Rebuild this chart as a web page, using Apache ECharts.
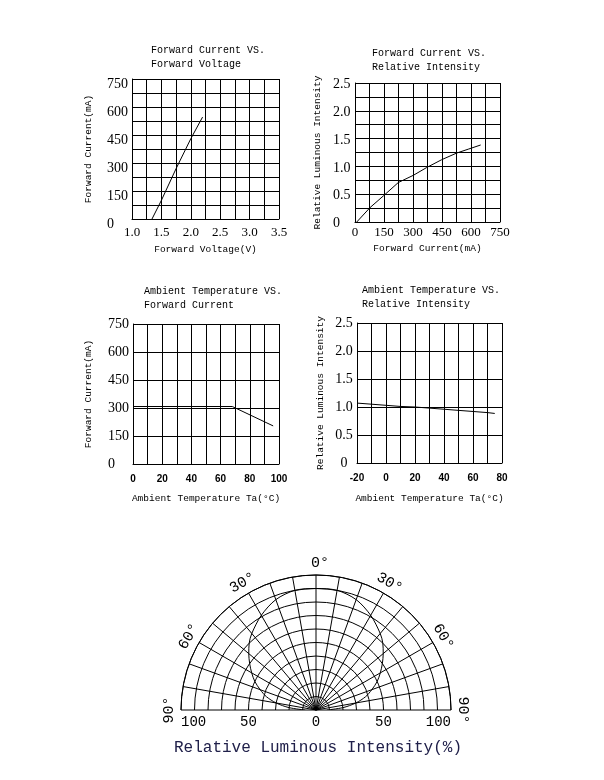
<!DOCTYPE html>
<html>
<head>
<meta charset="utf-8">
<script src="https://cdn.jsdelivr.net/npm/echarts@6/dist/echarts.min.js"></script>
<style>
html,body{margin:0;padding:0;background:#fff;}
#c{width:604px;height:780px;}
</style>
</head>
<body>
<div id="c"></div>
<script>
// ---- Chart 1: Forward Voltage vs Forward Current ----
const ivVoltage = [1.34, 1.5, 1.75, 2.0, 2.2];
const ivCurrent = [0, 100, 270, 430, 546];
const ivXLabels = [1.0, 1.5, 2.0, 2.5, 3.0, 3.5];
const ivYLabels = [0, 150, 300, 450, 600, 750];

// ---- Chart 2: Forward Current vs Relative Intensity ----
const liCurrent = [9, 78, 147, 224, 302, 371, 448, 526, 586, 650];
const liIntensity = [0, 0.26, 0.47, 0.71, 0.84, 0.98, 1.12, 1.24, 1.31, 1.385];
const liXLabels = [0, 150, 300, 450, 600, 750];
const liYLabels = [0, 0.5, 1.0, 1.5, 2.0, 2.5];

// ---- Chart 3: Ambient Temperature vs Forward Current ----
const drTemp = [0, 68, 96];
const drCurrent = [308, 308, 204];
const drXLabels = [0, 20, 40, 60, 80, 100];

// ---- Chart 4: Ambient Temperature vs Relative Intensity ----
const tiTemp = [-20, -10, 0, 10, 20, 30, 40, 50, 60, 70, 75];
const tiIntensity = [1.07, 1.05, 1.03, 1.01, 1.0, 0.98, 0.96, 0.94, 0.92, 0.90, 0.885];
const tiXLabels = [-20, 0, 20, 40, 60, 80];

// ---- Radiation pattern ----
const beamAngle = [-90, -85, -80, -75, -70, -65, -60, -55, -50, -45, -40, -30, -20, -10, 0, 10, 20, 30, 40, 45, 50, 55, 60, 65, 70, 75, 80, 85, 90];
const beamIntensity = [8, 20, 30, 38, 44, 50, 55, 60, 65, 70, 74, 81, 87, 90, 90, 90, 87, 81, 74, 70, 65, 60, 55, 50, 44, 38, 30, 20, 8];
const angleLabels = [
  {a: 0, t: '0°'}, {a: -30, t: '30°'}, {a: 30, t: '30°'},
  {a: -60, t: '60°'}, {a: 60, t: '60°'}, {a: -90, t: '90°'}, {a: 90, t: '90°'}
];
const radiusLabels = [-100, -50, 0, 50, 100];

const MONO = 'Liberation Mono';
const SERIF = 'Liberation Serif';
const SANS = 'Liberation Sans';
const BLK = '#000';

function near(v, arr) { return arr.some(a => Math.abs(a - v) < 1e-6); }
function zip(a, b) { return a.map((v, i) => [v, b[i]]); }

const lineS = {lineStyle: {color: BLK, width: 1}};
function axisBase(gi) {
  return {
    type: 'value', gridIndex: gi,
    axisLine: {show: true, onZero: false, lineStyle: {color: BLK, width: 1}},
    axisTick: {show: false},
    splitLine: {show: true, lineStyle: {color: BLK, width: 1}},
    nameLocation: 'middle',
    nameTextStyle: {fontFamily: MONO, fontSize: 9.5, color: BLK}
  };
}

const chart = echarts.init(document.getElementById('c'), null, {renderer: 'canvas'});

const PC = [316, 710], PR = 135;

const graphics = angleLabels.map(l => {
  const rad = l.a * Math.PI / 180;
  const R = 147;
  return {
    type: 'text',
    x: PC[0] + R * Math.sin(rad) + (l.a === 0 ? 4 : 0),
    y: PC[1] - R * Math.cos(rad),
    rotation: -rad,
    style: {text: l.t, fontFamily: MONO, fontSize: 15, fill: BLK, align: 'center', verticalAlign: 'middle'}
  };
});
graphics.push({
  type: 'text', x: 318, y: 748,
  style: {text: 'Relative Luminous Intensity(%)', fontFamily: MONO, fontSize: 16, fill: '#20204a', align: 'center', verticalAlign: 'middle'}
});

const titleStyle = {fontFamily: MONO, fontSize: 10, fontWeight: 'normal', color: BLK, lineHeight: 14};

const option = {
  backgroundColor: '#fff',
  animation: false,
  title: [
    {text: 'Forward Current VS.\nForward Voltage', left: 151, top: 43, padding: 0, textStyle: titleStyle},
    {text: 'Forward Current VS.\nRelative Intensity', left: 372, top: 46, padding: 0, textStyle: titleStyle},
    {text: 'Ambient Temperature VS.\nForward Current', left: 144, top: 284, padding: 0, textStyle: titleStyle},
    {text: 'Ambient Temperature VS.\nRelative Intensity', left: 362, top: 283, padding: 0, textStyle: titleStyle}
  ],
  grid: [
    {left: 132, top: 79, width: 147, height: 140},
    {left: 355, top: 83, width: 145, height: 139},
    {left: 133, top: 324, width: 146, height: 140},
    {left: 357, top: 323, width: 145, height: 140},
    {left: 181, top: 709, width: 270, height: 1}
  ],
  xAxis: [
    Object.assign(axisBase(0), {min: 1.0, max: 3.5, interval: 0.25, name: 'Forward Voltage(V)', nameGap: 25,
      axisLabel: {margin: 7, fontFamily: SERIF, fontSize: 13, color: BLK,
        formatter: v => near(v, ivXLabels) ? v.toFixed(1) : ''}}),
    Object.assign(axisBase(1), {min: 0, max: 750, interval: 75, name: 'Forward Current(mA)', nameGap: 21,
      axisLabel: {margin: 4, fontFamily: SERIF, fontSize: 13, color: BLK,
        formatter: v => near(v, liXLabels) ? String(v) : ''}}),
    Object.assign(axisBase(2), {min: 0, max: 100, interval: 10, name: 'Ambient Temperature Ta(°C)', nameGap: 29,
      axisLabel: {margin: 10, fontFamily: SANS, fontSize: 10, fontWeight: 'bold', color: BLK,
        formatter: v => near(v, drXLabels) ? String(v) : ''}}),
    Object.assign(axisBase(3), {min: -20, max: 80, interval: 10, name: 'Ambient Temperature Ta(°C)', nameGap: 30,
      axisLabel: {margin: 10, fontFamily: SANS, fontSize: 10, fontWeight: 'bold', color: BLK,
        formatter: v => near(v, tiXLabels) ? String(v) : ''}}),
    {type: 'value', gridIndex: 4, min: -100, max: 100, interval: 50,
      axisLine: {show: false}, axisTick: {show: false}, splitLine: {show: false},
      axisLabel: {margin: 5, fontFamily: MONO, fontSize: 14, color: BLK, alignMinLabel: 'left', alignMaxLabel: 'right',
        formatter: v => near(v, radiusLabels) ? String(Math.abs(v)) : ''}}
  ],
  yAxis: [
    Object.assign(axisBase(0), {min: 0, max: 750, interval: 75, name: 'Forward Current(mA)', nameGap: 39,
      axisLabel: {margin: 25, align: 'left', fontFamily: SERIF, fontSize: 14, color: BLK, verticalAlign: 'top', lineHeight: 11,
        formatter: v => near(v, ivYLabels) ? String(v) : ''}}),
    Object.assign(axisBase(1), {min: 0, max: 2.5, interval: 0.25, name: 'Relative Luminous Intensity', nameGap: 33,
      axisLabel: {margin: 22, align: 'left', fontFamily: SERIF, fontSize: 14, color: BLK, verticalAlign: 'top', lineHeight: 3,
        formatter: v => near(v, liYLabels) ? (v === 0 ? '0' : v.toFixed(1)) : ''}}),
    Object.assign(axisBase(2), {min: 0, max: 750, interval: 150, name: 'Forward Current(mA)', nameGap: 40,
      axisLabel: {margin: 25, align: 'left', fontFamily: SERIF, fontSize: 14, color: BLK,
        formatter: v => String(v)}}),
    Object.assign(axisBase(3), {min: 0, max: 2.5, interval: 0.5, name: 'Relative Luminous Intensity', nameGap: 32,
      axisLabel: {margin: 13, align: 'center', fontFamily: SERIF, fontSize: 14, color: BLK,
        formatter: v => v === 0 ? '0' : v.toFixed(1)}}),
    {type: 'value', gridIndex: 4, show: false, min: 0, max: 1}
  ],
  polar: {center: PC, radius: PR},
  angleAxis: {
    type: 'value', min: -90, max: 90, interval: 10, startAngle: 180, endAngle: 0, clockwise: true,
    axisLine: {show: true, lineStyle: {color: BLK, width: 1}},
    axisTick: {show: false}, axisLabel: {show: false},
    splitLine: {show: true, lineStyle: {color: BLK, width: 1}}
  },
  radiusAxis: {
    type: 'value', min: 0, max: 100, interval: 10,
    axisLine: {show: false}, axisTick: {show: false}, axisLabel: {show: false},
    splitLine: {show: true, lineStyle: {color: BLK, width: 1}}
  },
  series: [
    Object.assign({type: 'line', xAxisIndex: 0, yAxisIndex: 0, data: zip(ivVoltage, ivCurrent), symbol: 'none'}, lineS),
    Object.assign({type: 'line', xAxisIndex: 1, yAxisIndex: 1, data: zip(liCurrent, liIntensity), symbol: 'none'}, lineS),
    Object.assign({type: 'line', xAxisIndex: 2, yAxisIndex: 2, data: zip(drTemp, drCurrent), symbol: 'none'}, lineS),
    Object.assign({type: 'line', xAxisIndex: 3, yAxisIndex: 3, data: zip(tiTemp, tiIntensity), symbol: 'none'}, lineS),
    Object.assign({type: 'line', coordinateSystem: 'polar', data: zip(beamIntensity, beamAngle), symbol: 'none', smooth: 0.3}, lineS)
  ],
  graphic: graphics
};
chart.setOption(option);
</script>
</body>
</html>
